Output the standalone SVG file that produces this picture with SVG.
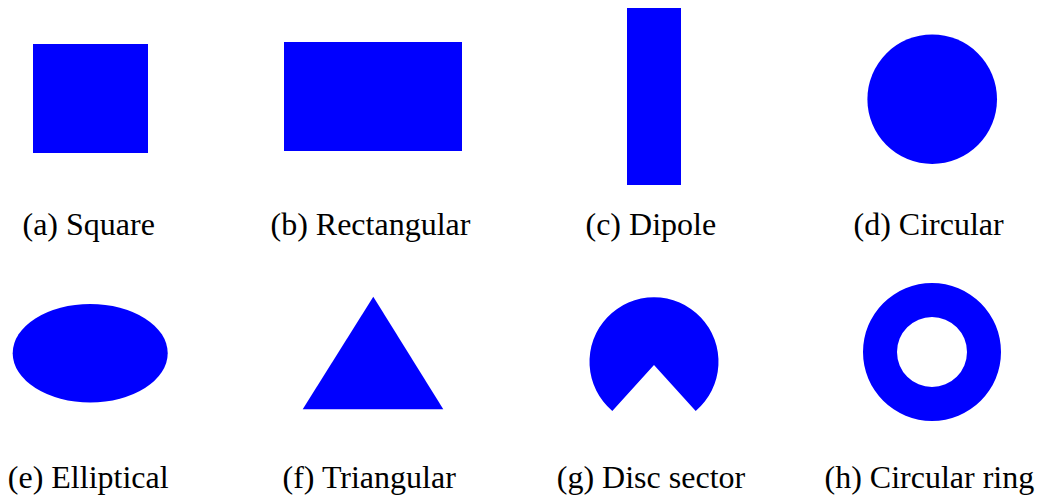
<svg xmlns="http://www.w3.org/2000/svg" width="1048" height="501" viewBox="0 0 1048 501">
<style>
.s{fill:#0000ff}
.t{font-family:'Liberation Serif','Times New Roman',Tinos,'DejaVu Serif',serif;font-size:32px;fill:#000}
</style>
<rect width="1048" height="501" fill="#fff"/>
<g id="square"><rect class="s" x="33" y="44" width="115" height="109"/><text class="t" x="22.5" y="234.5">(a) Square</text></g>
<g id="rectangular"><rect class="s" x="284" y="42" width="178" height="109"/><text class="t" x="270.5" y="234.5">(b) Rectangular</text></g>
<g id="dipole"><rect class="s" x="627" y="8" width="54" height="177"/><text class="t" x="585.5" y="234.5">(c) Dipole</text></g>
<g id="circular"><circle class="s" cx="932.2" cy="99.2" r="64.8"/><text class="t" x="853.5" y="234.5">(d) Circular</text></g>
<g id="elliptical"><ellipse class="s" cx="90.2" cy="353.2" rx="77.5" ry="49.2"/><text class="t" x="7.8" y="488.3">(e) Elliptical</text></g>
<g id="triangular"><polygon class="s" points="373.3,296.7 443.3,409.3 302.7,409.3"/><text class="t" x="282.5" y="488.3">(f) Triangular</text></g>
<g id="disc-sector"><path class="s" d="M654,365 L612.3,411 A64.5,64.5 0 1 1 695.7,411 Z"/><text class="t" x="556.8" y="488.3">(g) Disc sector</text></g>
<g id="circular-ring"><path class="s" fill-rule="evenodd" d="M863,352 a69,69 0 1 0 138,0 a69,69 0 1 0 -138,0 Z M897,352 a35,35 0 1 0 70,0 a35,35 0 1 0 -70,0 Z"/><text class="t" x="824.5" y="488.3">(h) Circular ring</text></g>
</svg>
